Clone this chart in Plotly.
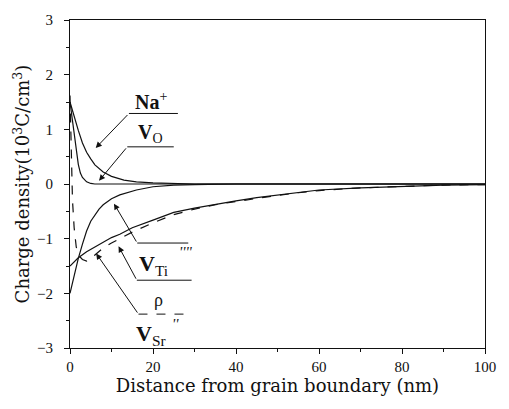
import plotly.graph_objects as go

# ---- data ----
x_na = [0, 1, 2, 3, 4, 5, 6, 8, 10, 13, 16, 20, 25, 30, 40, 60, 80, 100]
y_na = [1.5, 1.22, 0.98, 0.75, 0.58, 0.46, 0.35, 0.22, 0.14, 0.07, 0.04, 0.02, 0.01, 0, 0, 0, 0, 0]

x_vo = [0, 0.5, 1, 1.5, 2, 2.5, 3, 4, 5, 6, 8, 10, 20, 40, 60, 80, 100]
y_vo = [1.5, 1.2, 0.9, 0.6, 0.36, 0.2, 0.12, 0.04, 0.01, 0, 0, 0, 0, 0, 0, 0, 0]

x_ti = [0, 1, 2, 3, 4, 5, 6, 7, 8, 10, 12, 14, 16, 20, 25, 30, 40, 60, 80, 100]
y_ti = [-2.0, -1.68, -1.36, -1.1, -0.86, -0.68, -0.56, -0.46, -0.38, -0.27, -0.2, -0.15, -0.11, -0.05, -0.02, -0.01, 0, 0, 0, 0]

x_sr = [0, 2, 4, 6, 8, 10, 12, 15, 20, 25, 30, 35, 40, 45, 50, 55, 60, 70, 80, 90, 100]
y_sr = [-1.5, -1.35, -1.24, -1.15, -1.06, -0.98, -0.92, -0.8, -0.66, -0.52, -0.44, -0.37, -0.31, -0.25, -0.2, -0.15, -0.11, -0.07, -0.04, -0.02, -0.01]

x_rho = [0, 0.3, 0.6, 1, 1.5, 2, 3, 4, 5, 6, 8, 10, 12, 15, 20, 25, 30, 35, 40, 45, 50, 55, 60, 70, 80, 90, 100]
y_rho = [1.62, 0.5, -0.3, -0.8, -1.15, -1.3, -1.38, -1.41, -1.37, -1.3, -1.17, -1.08, -1.0, -0.88, -0.71, -0.56, -0.46, -0.38, -0.32, -0.26, -0.21, -0.16, -0.12, -0.07, -0.04, -0.02, -0.01]

x_ticks = [0, 20, 40, 60, 80, 100]
y_ticks = [-3, -2, -1, 0, 1, 2, 3]

FONT = "Liberation Serif, Times New Roman, serif"
TFONT = "DejaVu Serif, Liberation Serif, serif"
INK = "#111111"

fig = go.Figure()
for xs, ys, dash in [(x_na, y_na, "solid"), (x_vo, y_vo, "solid"), (x_ti, y_ti, "solid"),
                     (x_sr, y_sr, "solid"), (x_rho, y_rho, "dash")]:
    fig.add_trace(go.Scatter(x=xs, y=ys, mode="lines", showlegend=False,
                             line=dict(color=INK, width=1.2, dash=dash)))

# label lines (horizontal) and leader arrows: (x0, x1, y, tip_x, tip_y, dash)
labels = [
    (14.2, 26.0, 1.29, 6.2, 0.66, "solid"),
    (13.8, 25.0, 0.68, 7.0, 0.06, "solid"),
    (16.2, 28.5, -1.08, 10.6, -0.36, "solid"),
    (16.1, 29.3, -1.76, 11.7, -1.14, "solid"),
    (16.5, 28.9, -2.38, 6.3, -1.27, "dash"),
]
for x0, x1, yl, tx, ty, d in labels:
    fig.add_shape(type="line", x0=x0, x1=x1, y0=yl, y1=yl, xref="x", yref="y",
                  line=dict(color=INK, width=1, dash=d))
    fig.add_annotation(x=tx, y=ty, ax=x0, ay=yl, xref="x", yref="y", axref="x", ayref="y",
                       text="", showarrow=True, arrowhead=2, arrowsize=1.2, arrowwidth=1,
                       arrowcolor=INK)

txt = [
    (19.5, 1.52, "<b>Na</b><sup>+</sup>", 20),
    (19.5, 0.92, "<b>V</b><sub>O</sub>", 20),
    (20.0, -1.48, "<b>V</b><sub>Ti</sub>", 22),
    (28.0, -1.24, "<i>''''</i>", 15),
    (21.4, -2.12, "ρ", 18),
    (19.5, -2.76, "<b>V</b><sub>Sr</sub>", 22),
    (25.3, -2.56, "<i>''</i>", 15),
]
for x, y, t, s in txt:
    fig.add_annotation(x=x, y=y, xref="x", yref="y", text=t, showarrow=False,
                       font=dict(family=FONT, size=s, color=INK))

axis_common = dict(showline=True, linecolor=INK, linewidth=1.2, mirror=True,
                   ticks="outside", ticklen=5, tickwidth=1, tickcolor=INK,
                   showgrid=False, zeroline=False,
                   tickfont=dict(family=FONT, size=15, color=INK))

fig.update_xaxes(range=[0, 100], tickvals=x_ticks, ticklabelstandoff=0,
                 minor=dict(dtick=10, ticks="outside", ticklen=3, tickcolor=INK),
                 title=dict(text="Distance from grain boundary (nm)",
                            font=dict(family=TFONT, size=18, color=INK), standoff=4),
                 **axis_common)
fig.update_yaxes(range=[-3, 3], tickvals=y_ticks, ticklabelstandoff=8,
                 minor=dict(dtick=0.5, ticks="outside", ticklen=3, tickcolor=INK),
                 title=dict(text="Charge density(10<sup>3</sup>C/cm<sup>3</sup>)",
                            font=dict(family=TFONT, size=18, color=INK), standoff=2),
                 **axis_common)

fig.update_layout(width=509, height=409, margin=dict(l=70, r=24, t=14, b=61),
                  paper_bgcolor="white", plot_bgcolor="white")

fig.write_html("out.html")
